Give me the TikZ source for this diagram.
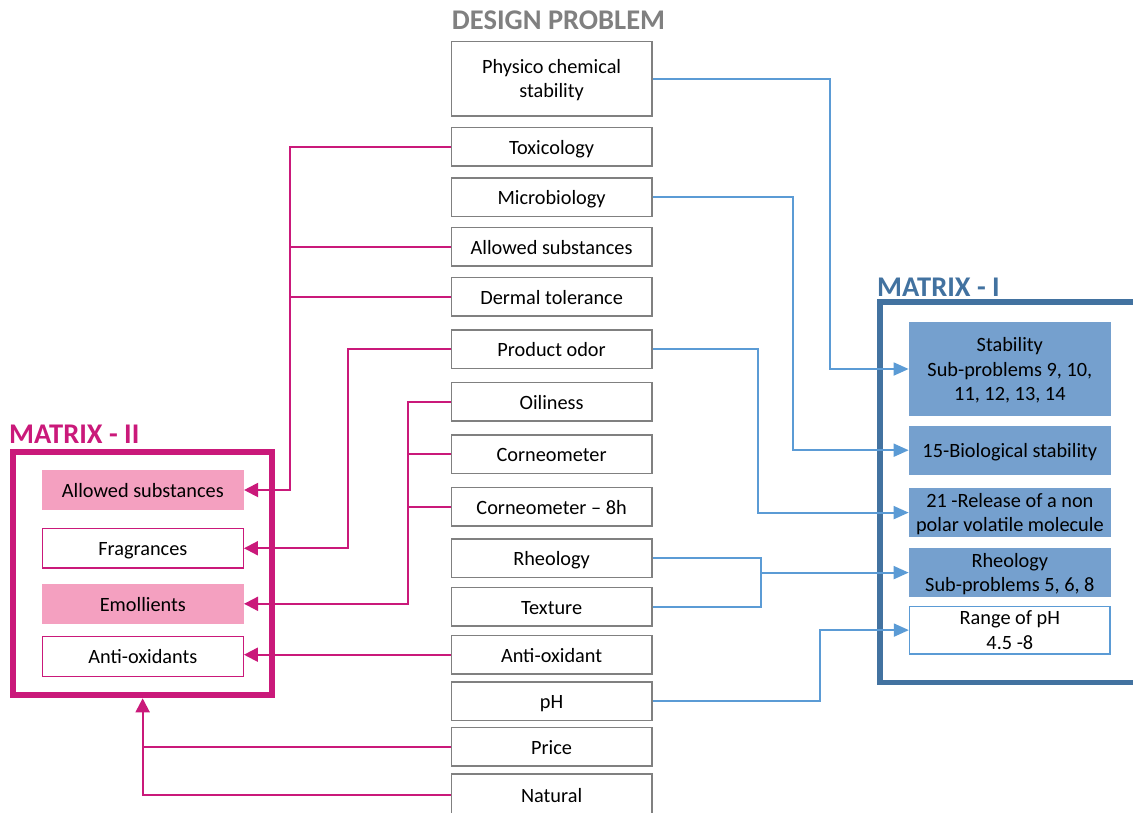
\documentclass[tikz,border=0pt]{standalone}
\usepackage{fontspec}
\setmainfont{Carlito}
\usepackage{tikz}
\usetikzlibrary{arrows.meta,positioning}
\definecolor{probgray}{RGB}{128,128,128}
\definecolor{matrixmagenta}{RGB}{202,25,122}
\definecolor{matrixpink}{RGB}{244,160,192}
\definecolor{matrixblue}{RGB}{66,114,160}
\definecolor{linkblue}{RGB}{91,155,213}
\definecolor{fillblue}{RGB}{117,160,206}
\newcommand{\boxfont}{\fontsize{20.3}{24.4}\selectfont}
\newcommand{\headfont}{\fontsize{28.5}{34}\selectfont\bfseries}
\tikzset{
    probbox/.style={
        rectangle,
        draw=probgray,
        line width=1.5pt,
        minimum width=200.5pt,
        minimum height=38.5pt,
        inner sep=1pt,
        text height=15pt,
        text depth=0pt,
        align=center,
        font=\boxfont
    },
    needbox/.style={rectangle, minimum width=202pt, minimum height=40pt, inner sep=1pt, text height=15pt, text depth=0pt, align=center, font=\boxfont},
    needfill/.style={needbox, fill=matrixpink},
    needplain/.style={needbox, draw=matrixmagenta, line width=1.2pt, fill=white, minimum width=201pt, minimum height=39.5pt},
    specfill/.style={needbox, fill=fillblue, minimum height=49pt},
    specplain/.style={needbox, draw=linkblue, line width=1.5pt, fill=white, minimum width=200.5pt, minimum height=47.5pt},
    multiline/.style={text height=},
    matrixframe/.style={rectangle, line width=6pt, inner sep=0pt},
    headlabel/.style={font=\headfont, inner sep=0pt},
    magline/.style={draw=matrixmagenta, line width=2pt},
    magarrow/.style={magline, -{Triangle[length=14pt,width=14pt]}},
    blueline/.style={draw=linkblue, line width=1.8pt},
    bluearrow/.style={blueline, -{Triangle[length=15pt,width=13pt]}},
}
\begin{document}
\begin{tikzpicture}[x=1pt, y=-1pt]
    \useasboundingbox (0,0) rectangle (1133,812);

    % Matrix frames
    \node[matrixframe, draw=matrixmagenta, minimum width=259.3pt, minimum height=243pt] (mtwo) at (142.65,573.8) {};
    \node[matrixframe, draw=matrixblue, line width=5.3pt, minimum width=270pt, minimum height=380.7pt] (mone) at (1015,492.35) {};
    \node[headlabel, text=matrixmagenta, anchor=base west] (mtwotitle) at (9,443) {MATRIX - II};
    \node[headlabel, text=matrixblue, anchor=base west] (monetitle) at (877,296) {MATRIX - I};

    % Design problem column
    \node[headlabel, text=probgray, anchor=base] (designtitle) at (558.5,29.3) {DESIGN PROBLEM};
    \node[probbox, multiline, minimum height=74.5pt] (physico) at (551.6,78.7) {Physico chemical\\stability};
    \node[probbox, below=10pt of physico] (toxicology) {Toxicology};
    \node[probbox, below=10.5pt of toxicology] (microbio) {Microbiology};
    \node[probbox, below=9.5pt of microbio] (allowedsub) {Allowed substances};
    \node[probbox, below=10pt of allowedsub] (dermal) {Dermal tolerance};
    \node[probbox, below=12.5pt of dermal] (odor) {Product odor};
    \node[probbox, below=12.5pt of odor] (oiliness) {Oiliness};
    \node[probbox, below=12.5pt of oiliness] (corneo) {Corneometer};
    \node[probbox, below=12.5pt of corneo] (corneoeight) {Corneometer -- 8h};
    \node[probbox, below=11.5pt of corneoeight] (rheology) {Rheology};
    \node[probbox, below=8.5pt of rheology] (texture) {Texture};
    \node[probbox, below=8pt of texture] (antiox) {Anti-oxidant};
    \node[probbox, below=6.5pt of antiox] (ph) {pH};
    \node[probbox, below=5.5pt of ph] (price) {Price};
    \node[probbox, below=6.5pt of price, minimum height=42pt] (natural) {Natural};

    % Matrix II contents
    \node[needfill] (allowedtwo) at (142.85,490) {Allowed substances};
    \node[needplain, below=17.7pt of allowedtwo] (fragrances) {Fragrances};
    \node[needfill, below=15pt of fragrances] (emollients) {Emollients};
    \node[needplain, below=12pt of emollients] (antioxtwo) {Anti-oxidants};

    % Matrix I contents
    \node[specfill, multiline, minimum height=93.4pt] (stability) at (1009.85,369) {Stability\\Sub-problems 9, 10,\\11, 12, 13, 14};
    \node[specfill, below=9.6pt of stability] (biostab) {15-Biological stability};
    \node[specfill, multiline, below=13pt of biostab] (release) {21 -Release of a non\\polar volatile molecule};
    \node[specfill, multiline, below=10.6pt of release] (rheoone) {Rheology\\Sub-problems 5, 6, 8};
    \node[specplain, multiline, below=8.3pt of rheoone] (phrange) {Range of pH\\4.5 -8};

    % Links to matrix II
    \draw[magarrow] (toxicology.west) -- ++(-161,0) coordinate (safetybus) |- (allowedtwo.east);
    \draw[magline] (allowedsub.west) -- (allowedsub.west -| safetybus);
    \draw[magline] (dermal.west) -- (dermal.west -| safetybus);
    \draw[magarrow] (odor.west) -- ++(-103,0) |- (fragrances.east);
    \draw[magarrow] (oiliness.west) -- ++(-43,0) coordinate (skinbus) |- (emollients.east);
    \draw[magline] (corneo.west) -- (corneo.west -| skinbus);
    \draw[magline] (corneoeight.west) -- (corneoeight.west -| skinbus);
    \draw[magarrow] (antiox.west) -- (antiox.west -| antioxtwo.east);
    \draw[magarrow] (natural.west) -| (mtwo.south);
    \draw[magline] (price.west) -- (price.west -| mtwo.south);

    % Links to matrix I
    \draw[bluearrow] (physico.east) -- ++(177,0) |- (stability.west);
    \draw[bluearrow] (microbio.east) -- ++(140,0) |- (biostab.west);
    \draw[bluearrow] (odor.east) -- ++(105,0) |- (release.west);
    \draw[blueline] (rheology.east) -- ++(108,0) coordinate (textbus) |- (texture.east);
    \draw[bluearrow] (rheoone.west -| textbus) -- (rheoone.west);
    \draw[bluearrow] (ph.east) -- ++(167,0) |- (phrange.west);
\end{tikzpicture}
\end{document}
